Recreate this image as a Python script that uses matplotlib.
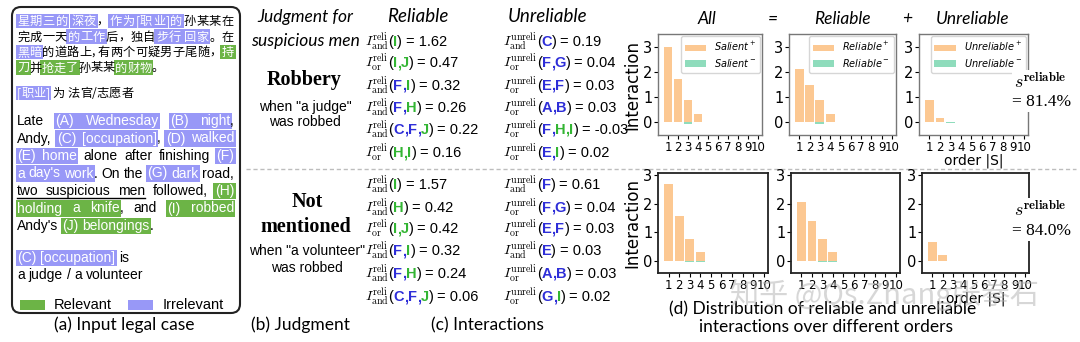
#!/usr/bin/env python3
"""
Legal case figure - input case, judgment, interactions and order distribution
Rebuilt with plain matplotlib, everything laid out in pixel coordinates
"""

import matplotlib
matplotlib.use('Agg')
import matplotlib.pyplot as plt
from matplotlib.patches import FancyBboxPatch, Rectangle

W, H = 1080, 342

# ---------------- data ----------------
orders = list(range(1, 11))

# top row: "a judge" was robbed
top_all_pos = [3.0, 1.7, 0.9, 0.33, 0.01, 0.01, 0.01, 0.01, 0.01, 0.01]
top_all_neg = [0, 0, -0.07, 0, 0, 0, 0, 0, 0, 0]
top_rel_pos = [2.1, 1.5, 0.9, 0.33, 0.01, 0.01, 0.01, 0.01, 0.01, 0.0]
top_rel_neg = [0, 0, -0.07, 0, 0, 0, 0, 0, 0, 0]
top_unrel_pos = [0.9, 0.18, 0.0, 0.0, 0.0, 0.0, 0.0, 0.0, 0.0, 0.0]
top_unrel_neg = [0, 0, -0.03, 0, 0, 0, 0, 0, 0, 0]

# bottom row: "a volunteer" was robbed
bot_all_pos = [2.7, 1.57, 0.75, 0.32, 0.01, 0.01, 0.01, 0.01, 0.01, 0.01]
bot_all_neg = [0, 0, -0.03, -0.03, 0, 0, 0, 0, 0, 0]
bot_rel_pos = [2.05, 1.38, 0.75, 0.32, 0.01, 0.01, 0.01, 0.01, 0.01, 0.0]
bot_rel_neg = [0, 0, -0.03, -0.03, 0, 0, 0, 0, 0, 0]
bot_unrel_pos = [0.65, 0.2, 0.01, 0.01, 0.0, 0.0, 0.0, 0.0, 0.0, 0.0]
bot_unrel_neg = [0, 0, -0.01, -0.01, 0, 0, 0, 0, 0, 0]

s_reliable = ['81.4%', '84.0%']

# interactions: (and/or, letters, value)
relevant = {'H', 'I', 'J'}
reli_top = [('and', 'I', '1.62'), ('or', 'IJ', '0.47'), ('and', 'FI', '0.32'),
            ('and', 'FH', '0.26'), ('and', 'CFJ', '0.22'), ('or', 'HI', '0.16')]
unreli_top = [('and', 'C', '0.19'), ('or', 'FG', '0.04'), ('or', 'EF', '0.03'),
              ('or', 'AB', '0.03'), ('or', 'FHI', '-0.03'), ('or', 'EI', '0.02')]
reli_bot = [('and', 'I', '1.57'), ('and', 'H', '0.42'), ('or', 'IJ', '0.42'),
            ('and', 'FI', '0.32'), ('and', 'FH', '0.24'), ('and', 'CFJ', '0.06')]
unreli_bot = [('and', 'F', '0.61'), ('or', 'FG', '0.04'), ('or', 'EF', '0.03'),
              ('and', 'E', '0.03'), ('or', 'AB', '0.03'), ('or', 'GI', '0.02')]

# case text: (text, kind) with kind n=normal, b=irrelevant, g=relevant, u=underline
cn_lines = [
    [('星期三的', 'b'), (' ', 'n'), ('深夜', 'b'), ('，', 'n'), ('作为[职业]的', 'b'), ('孙某某在', 'n')],
    [('完成一天', 'n'), ('的工作', 'b'), ('后，独自', 'n'), ('步行', 'b'), (' ', 'n'), ('回家', 'b'), ('。在', 'n')],
    [('黑暗', 'b'), ('的道路上, 有两个可疑男子尾随，', 'n'), ('持', 'g')],
    [('刀', 'g'), ('并', 'n'), ('抢走了', 'g'), ('孙某某', 'n'), ('的财物', 'g'), ('。', 'n')],
]
cn_note = [('[职业]', 'b'), (' 为 法官/志愿者', 'n')]
en_lines = [
    [('Late ', 'n'), ('(A) Wednesday', 'b'), (' ', 'n'), ('(B) night', 'b'), (',', 'n')],
    [('Andy, ', 'n'), ('(C) [occupation]', 'b'), (', ', 'n'), ('(D) walked', 'b')],
    [('(E) home', 'b'), (' alone after finishing ', 'n'), ('(F)', 'b')],
    [("a day's work", 'b'), ('. On the ', 'n'), ('(G) dark', 'b'), (' road,', 'n')],
    [('two suspicious men', 'u'), (' followed, ', 'n'), ('(H)', 'g')],
    [('holding a knife', 'g'), (', and ', 'n'), ('(I) robbed', 'g')],
    [("Andy's ", 'n'), ('(J) belongings', 'g'), ('.', 'n')],
]
en_note = [[('(C) [occupation]', 'b'), (' is', 'n')], [('a judge / a volunteer', 'n')]]

# ---------------- style ----------------
BLUE_HL = '#9898f7'
GREEN_HL = '#6cb446'
BLUE_TXT = '#2e2ed8'
GREEN_TXT = '#33b533'
ORANGE = '#fcc892'
MINT = '#8fdcbc'
SANS = 'Liberation Sans'
CJK = ['Noto Sans CJK SC', 'DejaVu Sans']

fig = plt.figure(figsize=(W / 100, H / 100), dpi=100)
ax0 = fig.add_axes([0, 0, 1, 1])
ax0.set_xlim(0, W)
ax0.set_ylim(H, 0)
ax0.axis('off')
renderer = fig.canvas.get_renderer()


def text_w(t):
    return t.get_window_extent(renderer=renderer).width


def space_width(size, family):
    a = ax0.text(0, 0, 'a a', fontsize=size, family=family)
    b = ax0.text(0, 0, 'aa', fontsize=size, family=family)
    w = text_w(a) - text_w(b)
    a.remove()
    b.remove()
    return w


def draw_line(x0, y, segs, size, family, right=None, cjk=False, asc=12.5, desc=4.0):
    """Lay out one line of words, optionally justified, with highlight boxes."""
    tokens = []
    gap = False
    for k, (text, kind) in enumerate(segs):
        if cjk:
            for ch in text:
                if ch == ' ':
                    gap = True
                else:
                    tokens.append((ch, kind, k, gap))
                    gap = False
        else:
            for i, word in enumerate(text.split(' ')):
                if i > 0:
                    gap = True
                if word:
                    tokens.append((word, kind, k, gap))
                    gap = False
    sp = space_width(size, family)
    arts = []
    for word, kind, k, g in tokens:
        c = 'white' if kind in ('b', 'g') else 'black'
        arts.append(ax0.text(x0, y, word, fontsize=size, family=family, color=c,
                             va='baseline', ha='left', zorder=3))
    widths = [text_w(a) for a in arts]
    base = [0] + [sp if t[3] else 0 for t in tokens[1:]]
    if cjk:
        stretch = [0] + [1] * (len(tokens) - 1)
    else:
        stretch = [0] + [1 if t[3] else 0 for t in tokens[1:]]
    extra = 0
    if right is not None and sum(stretch) > 0:
        extra = (right - x0 - sum(widths) - sum(base)) / sum(stretch)
    xs = []
    x = x0
    for i, a in enumerate(arts):
        x += base[i] + extra * stretch[i]
        a.set_x(x)
        xs.append(x)
        x += widths[i]
    i = 0
    while i < len(tokens):
        kind, k = tokens[i][1], tokens[i][2]
        j = i
        while j + 1 < len(tokens) and tokens[j + 1][2] == k:
            j += 1
        x_a, x_b = xs[i] - 1.5, xs[j] + widths[j] + 1.5
        if kind in ('b', 'g'):
            ax0.add_patch(Rectangle((x_a, y - asc), x_b - x_a, asc + desc,
                                    fc=BLUE_HL if kind == 'b' else GREEN_HL, ec='none', zorder=2))
        elif kind == 'u':
            ax0.plot([x_a + 1.5, x_b - 1.5], [y + 2.5, y + 2.5], color='black', lw=1, zorder=3)
        i = j + 1


def draw_seq(x, y, pieces):
    """Place text pieces one after another on a baseline."""
    for text, kw, pre in pieces:
        x += pre
        t = ax0.text(x, y, text, va='baseline', ha='left', zorder=3, **kw)
        x += text_w(t)


def draw_formula(x, y, sup, row):
    sub, letters, value = row
    fs = 10.5
    base = dict(fontsize=fs, family=SANS)
    pieces = [(r'$I^{\mathrm{%s}}_{\mathrm{%s}}$' % (sup, sub),
               dict(fontsize=10.2, math_fontfamily='cm'), 0),
              ('(', base, -0.5)]
    for n, L in enumerate(letters):
        c = GREEN_TXT if L in relevant else BLUE_TXT
        pieces.append((L, dict(fontsize=fs, family=SANS, color=c, weight='bold'), 0))
        if n < len(letters) - 1:
            pieces.append((',', dict(fontsize=fs, family=SANS, color=c, weight='bold'), 0))
    pieces.append((')', base, 0))
    pieces.append(('= ' + value, base, 3.3))
    draw_seq(x, y, pieces)


# ---------------- (a) input legal case ----------------
ax0.add_patch(FancyBboxPatch((12, 7), 228, 306, boxstyle='round,pad=0,rounding_size=9',
                             ec='#222222', fc='none', lw=1.5, zorder=1))
cn_base = [25, 40.5, 56, 71.5]
for n, segs in enumerate(cn_lines):
    draw_line(17, cn_base[n], segs, 8.8, CJK, right=234 if n < 3 else None,
              cjk=True, asc=11.5, desc=3.0)
draw_line(17, 97, cn_note, 8.8, CJK, cjk=True, asc=11.5, desc=3.0)

en_base = [125, 142.5, 160, 177.5, 195, 212.5, 230]
for n, segs in enumerate(en_lines):
    draw_line(17, en_base[n], segs, 10, SANS, right=234 if n < 6 else None)
draw_line(17, 262, en_note[0], 10, SANS)
draw_line(17, 279, en_note[1], 10, SANS)

ax0.add_patch(Rectangle((20, 300), 25, 10, fc=GREEN_HL, ec='none'))
ax0.text(54, 305, 'Relevant', fontsize=10.5, family=SANS, va='center')
ax0.add_patch(Rectangle((128, 300), 25, 10, fc=BLUE_HL, ec='none'))
ax0.text(163, 305, 'Irrelevant', fontsize=10.5, family=SANS, va='center')

# ---------------- (b) judgment / (c) interactions ----------------
hdr = dict(family='Lato', style='italic', ha='center', va='center')
ax0.text(305, 17, 'Judgment for', fontsize=12.5, **hdr)
ax0.text(305, 41, 'suspicious men', fontsize=12.5, **hdr)
ax0.text(418, 17, 'Reliable', fontsize=13.5, **hdr)
ax0.text(548, 17, 'Unreliable', fontsize=13.5, **hdr)

serif_b = dict(family='Liberation Serif', weight='bold', fontsize=14.5, ha='center', va='center')
small = dict(family=SANS, fontsize=10, ha='center', va='center')
ax0.text(304, 80, 'Robbery', **serif_b)
ax0.text(305, 107, 'when "a judge"', **small)
ax0.text(305, 122, 'was robbed', **small)
ax0.text(307, 202, 'Not', **serif_b)
ax0.text(306, 227, 'mentioned', **serif_b)
ax0.text(307, 251, 'when "a volunteer"', **small)
ax0.text(307, 268, 'was robbed', **small)

top_rows = [46, 67, 90, 112, 134, 157]
bot_rows = [189, 212, 233, 255, 278, 301]
for n in range(6):
    draw_formula(365, top_rows[n], 'reli', reli_top[n])
    draw_formula(503, top_rows[n], 'unreli', unreli_top[n])
    draw_formula(365, bot_rows[n], 'reli', reli_bot[n])
    draw_formula(503, bot_rows[n], 'unreli', unreli_bot[n])

ax0.plot([246, 1076], [169, 169], ls=(0, (3, 2)), color='#bdbdbd', lw=1)

cap = dict(family='Lato', fontsize=12.5, ha='center', va='center')
ax0.text(124, 325, '(a) Input legal case', **cap)
ax0.text(300, 325, '(b) Judgment', **cap)
ax0.text(487, 325, '(c) Interactions', **cap)
ax0.text(823, 309, '(d) Distribution of reliable and unreliable', **cap)
ax0.text(826, 327, 'interactions over different orders', **cap)

# ---------------- (d) distributions ----------------
ttl = dict(family='Lato', style='italic', fontsize=12.5, ha='center', va='center')
ax0.text(707, 19, 'All', **ttl)
ax0.text(773, 19, '=', **ttl)
ax0.text(842, 19, 'Reliable', **ttl)
ax0.text(907, 19, '+', **ttl)
ax0.text(973, 19, 'Unreliable', **ttl)


def bar_panel(rect, pos, neg, names, ylim, legend, ylabel, xlabel, spine_c, spine_w):
    l, t, r, b = rect
    ax = fig.add_axes([l / W, 1 - b / H, (r - l) / W, (b - t) / H])
    ax.bar(orders, pos, width=0.85, color=ORANGE, label=names[0])
    ax.bar(orders, neg, width=0.85, color=MINT, label=names[1])
    ax.set_xlim(0, 10.4)
    ax.set_ylim(*ylim)
    ax.set_xticks(orders)
    ax.set_yticks([0, 1, 2, 3])
    ax.tick_params(axis='x', labelsize=8.5, length=3, pad=1)
    ax.tick_params(axis='y', labelsize=10.5, length=3, pad=1)
    for s in ax.spines.values():
        s.set_color(spine_c)
        s.set_linewidth(spine_w)
    if legend:
        ax.legend(loc='upper right', prop=dict(size=7, style='italic'), borderaxespad=0.25,
                  handlelength=2.2, labelspacing=0.35, borderpad=0.4, edgecolor='#cccccc')
    if ylabel:
        ax.set_ylabel('Interaction', fontsize=12, labelpad=1)
    if xlabel:
        ax.set_xlabel('order |S|', fontsize=10, labelpad=0)
    return ax


top_rects = [(658, 34, 762, 135), (789, 34, 896, 135), (919, 34, 1028, 135)]
bot_rects = [(658, 173, 768, 273), (791, 173, 900, 273), (922, 173, 1029, 273)]
top_data = [(top_all_pos, top_all_neg, 'Salient'), (top_rel_pos, top_rel_neg, 'Reliable'),
            (top_unrel_pos, top_unrel_neg, 'Unreliable')]
bot_data = [(bot_all_pos, bot_all_neg), (bot_rel_pos, bot_rel_neg), (bot_unrel_pos, bot_unrel_neg)]

for n in range(3):
    pos, neg, nm = top_data[n]
    bar_panel(top_rects[n], pos, neg, [nm + '$^+$', nm + '$^-$'], (-0.5, 3.5),
              True, n == 0, n == 2, '#777777', 1.0)
    pos, neg = bot_data[n]
    bar_panel(bot_rects[n], pos, neg, ['_a', '_b'], (-0.42, 3.07),
              False, n == 0, n == 2, '#222222', 1.3)

# s^reliable labels sit over the right spine of the last panels
for y1, y2, val in [(82, 102, s_reliable[0]), (210, 231, s_reliable[1])]:
    fig.text(1040 / W, 1 - y1 / H, r'$s^{\mathbf{reliable}}$', fontsize=13, math_fontfamily='cm',
             ha='center', va='center', zorder=5,
             bbox=dict(fc='white', ec='none', pad=1.5))
    fig.text(1042 / W, 1 - y2 / H, '= ' + val, fontsize=12.5, family='Liberation Serif',
             ha='center', va='center', zorder=5,
             bbox=dict(fc='white', ec='none', pad=1.5))

# site watermark
fig.text(885 / W, 1 - 295 / H, '知乎 @Qs.Zhang张拳石', fontsize=21, family=CJK,
         color='#b0b0b0', alpha=0.5, ha='center', va='center', zorder=10)

plt.savefig('out.png', dpi=100)
print('saved out.png')
